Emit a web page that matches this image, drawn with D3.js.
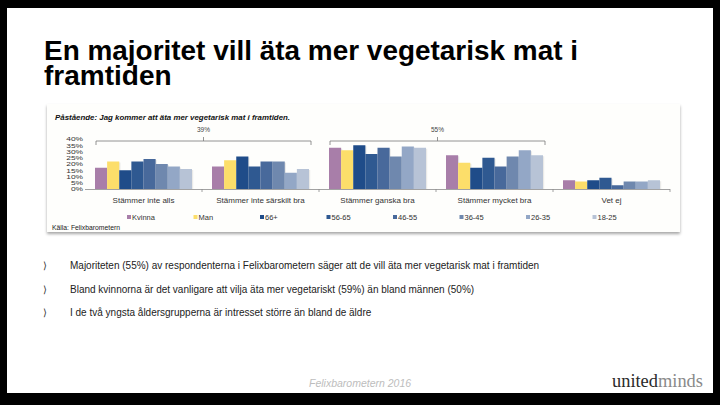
<!DOCTYPE html>
<html><head><meta charset="utf-8">
<script src="https://cdn.jsdelivr.net/npm/d3@7"></script>
<style>html,body{margin:0;padding:0;background:#000;}svg{display:block;}</style>
</head><body>
<svg id="c" width="720" height="405"></svg>
<script>
const categories = ["Stämmer inte alls","Stämmer inte särskilt bra","Stämmer ganska bra","Stämmer mycket bra","Vet ej"];
const seriesNames = ["Kvinna","Man","66+","56-65","46-55","36-45","26-35","18-25"];
const seriesColors = ["#A87EA9","#FCDE6A","#1F4C89","#2F5991","#48699B","#6F88AE","#93A7C6","#B7C3D6"];
const kvinna = [17,18,33,27,7];
const man    = [22,23,31,21,6];
const age66  = [15,26,35,17,7];
const age56  = [22,18,28,25,9];
const age46  = [24,22,33,18,3];
const age36  = [20,22,26,26,6];
const age26  = [18,13,34,31,6];
const age18  = [16,16,33,27,7];
const seriesValues = [kvinna,man,age66,age56,age46,age36,age26,age18];
const yTicks = [0,5,10,15,20,25,30,35,40];
const brackets = [{from:0,to:1,label:"39%"},{from:2,to:3,label:"55%"}];
const bullets = [
  "Majoriteten (55%) av respondenterna i Felixbarometern säger att de vill äta mer vegetarisk mat i framtiden",
  "Bland kvinnorna är det vanligare att vilja äta mer vegetariskt (59%) än bland männen (50%)",
  "I de två yngsta åldersgrupperna är intresset större än bland de äldre"
];

const svg = d3.select("#c");
const F = "'Liberation Sans', Arial, sans-serif";

svg.append("rect").attr("x",0).attr("y",0).attr("width",720).attr("height",405).attr("fill","#000");
svg.append("rect").attr("x",7).attr("y",8).attr("width",706).attr("height",385).attr("fill","#fff");

const title = svg.append("text").attr("font-family",F).attr("font-weight","bold").attr("font-size",28).attr("fill","#000");
title.append("tspan").attr("x",44).attr("y",60).attr("textLength",534).attr("lengthAdjust","spacingAndGlyphs").text("En majoritet vill äta mer vegetarisk mat i");
title.append("tspan").attr("x",44).attr("y",85).text("framtiden");

const defs = svg.append("defs");
const f = defs.append("filter").attr("id","sh").attr("x","-5%").attr("y","-5%").attr("width","110%").attr("height","120%");
f.append("feDropShadow").attr("dx",0).attr("dy",2).attr("stdDeviation",1.5).attr("flood-color","#000").attr("flood-opacity",0.35);
svg.append("rect").attr("x",47).attr("y",104).attr("width",633).attr("height",128).attr("fill","#FEFEFC").attr("filter","url(#sh)");

svg.append("text").attr("x",55).attr("y",120).attr("font-family",F).attr("font-size",7.9).attr("font-weight","bold").attr("font-style","italic").attr("fill","#111")
  .text("Påstående: Jag kommer att äta mer vegetarisk mat i framtiden.");

const x0 = d3.scaleBand().domain(categories).range([85,670]).paddingInner(0).paddingOuter(0);
const x1 = d3.scaleBand().domain(seriesNames).range([10, x0.bandwidth()-10]).padding(0);
const y = d3.scaleLinear().domain([0,40]).range([189,139]);
const color = d3.scaleOrdinal().domain(seriesNames).range(seriesColors);

const g = svg.append("g");
categories.forEach((c,ci)=>{
  seriesNames.forEach((s,si)=>{
    const v = seriesValues[si][ci];
    g.append("rect")
      .attr("x", x0(c)+x1(s)+1.2).attr("y", y(v)+1).attr("width", x1.bandwidth()).attr("height", y(0)-y(v)-1)
      .attr("fill","#000").attr("opacity",0.08);
    g.append("rect")
      .attr("x", x0(c)+x1(s)).attr("y", y(v)).attr("width", x1.bandwidth()).attr("height", y(0)-y(v))
      .attr("fill", color(s));
  });
});

svg.append("line").attr("x1",85).attr("x2",670).attr("y1",y(0)+0.5).attr("y2",y(0)+0.5).attr("stroke","#8a8a8a").attr("stroke-width",0.8);
categories.forEach(c=>{
  const xr = x0(c)+x0.bandwidth();
  svg.append("line").attr("x1",xr).attr("x2",xr).attr("y1",y(0)).attr("y2",y(0)+3).attr("stroke","#8a8a8a").attr("stroke-width",0.8);
  svg.append("text").attr("x",x0(c)+x0.bandwidth()/2).attr("y",203).attr("text-anchor","middle")
    .attr("font-family",F).attr("font-size",8).attr("fill","#333").text(c);
});

// y tick labels (vertically squeezed, as in the reference)
yTicks.forEach(t=>{
  svg.append("text").attr("transform",`translate(83,${y(t)+2.4}) scale(1.05,0.72)`).attr("text-anchor","end")
    .attr("font-family",F).attr("font-size",8).attr("fill","#333").text(t+"%");
});

brackets.forEach(b=>{
  const xa = x0(categories[b.from])+x1(seriesNames[0])+1;
  const xb = x0(categories[b.to])+x1(seriesNames[seriesNames.length-1])+x1.bandwidth()+2;
  const xm = (xa+xb)/2;
  const path = `M${xa},145 L${xa},141 L${xb},141 L${xb},145 M${xm},141 L${xm},137`;
  svg.append("path").attr("d",path).attr("fill","none").attr("stroke","#7a7a7a").attr("stroke-width",0.8);
  svg.append("text").attr("x",xm).attr("y",132).attr("text-anchor","middle")
    .attr("font-family",F).attr("font-size",6.5).attr("fill","#444").text(b.label);
});

seriesNames.forEach((s,i)=>{
  const lx = 127 + i*66.5;
  svg.append("rect").attr("x",lx).attr("y",215).attr("width",4).attr("height",4).attr("fill",color(s));
  svg.append("text").attr("x",lx+5).attr("y",220).attr("font-family",F).attr("font-size",7.5).attr("fill","#333").text(s);
});

svg.append("text").attr("x",52).attr("y",229.5).attr("font-family",F).attr("font-size",6.8).attr("fill","#222").text("Källa: Felixbarometern");

bullets.forEach((b,i)=>{
  const by = 269 + i*23.5;
  svg.append("text").attr("x",43).attr("y",by).attr("font-family",F).attr("font-size",9.5).attr("fill","#333").text("⟩");
  svg.append("text").attr("x",70).attr("y",by).attr("font-family",F).attr("font-size",10).attr("fill","#222").text(b);
});

svg.append("text").attr("x",309).attr("y",387).attr("font-family",F).attr("font-size",10.5).attr("font-style","italic").attr("fill","#bdbdbd").text("Felixbarometern 2016");
const logo = svg.append("text").attr("x",612).attr("y",387).attr("font-family","'Liberation Serif', 'Times New Roman', serif").attr("font-size",18.4);
logo.append("tspan").attr("fill","#2a2a2a").text("united");
logo.append("tspan").attr("fill","#8a8a8a").text("minds");
</script>
</body></html>
